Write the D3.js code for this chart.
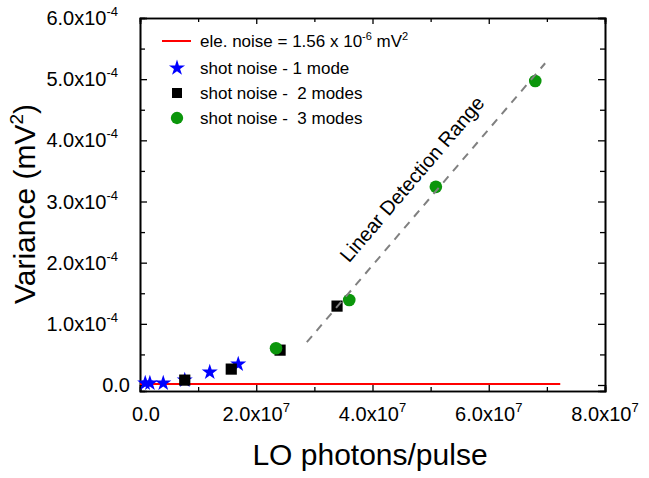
<!DOCTYPE html>
<html>
<head>
<meta charset="utf-8">
<script src="https://cdn.jsdelivr.net/npm/d3@7"></script>
<style>
  body { margin: 0; background: #fff; }
  svg text { font-family: "Liberation Sans", Arial, sans-serif; fill: #000; white-space: pre; }
</style>
</head>
<body>
<div id="chart"></div>
<script>
// data
const starX = [0.09e7, 0.17e7, 0.40e7, 0.77e7, 1.20e7, 1.69e7];
const starY = [0.3e-5, 0.3e-5, 0.3e-5, 0.8e-5, 2.1e-5, 3.4e-5];
const squareX = [0.77e7, 1.57e7, 2.41e7, 3.39e7];
const squareY = [0.8e-5, 2.6e-5, 5.7e-5, 12.9e-5];
const circleX = [2.34e7, 3.60e7, 5.09e7, 6.80e7];
const circleY = [6.0e-5, 13.9e-5, 32.4e-5, 49.7e-5];
const noiseLevel = 1.56e-6;
const noiseX = [0, 7.23e7];
const fitX = [2.87e7, 6.97e7];
const fitY = [0.70e-4, 5.26e-4];
const xTicks = [0, 2e7, 4e7, 6e7, 8e7];
const xTickLabels = [["0.0", ""], ["2.0x10", "7"], ["4.0x10", "7"], ["6.0x10", "7"], ["8.0x10", "7"]];
const yTicks = [0, 1e-4, 2e-4, 3e-4, 4e-4, 5e-4, 6e-4];
const yTickLabels = [["0.0", ""], ["1.0x10", "-4"], ["2.0x10", "-4"], ["3.0x10", "-4"], ["4.0x10", "-4"], ["5.0x10", "-4"], ["6.0x10", "-4"]];
const legendNames = ["shot noise - 1 mode", "shot noise -  2 modes", "shot noise -  3 modes"];

let width = 649;
let height = 478;
let margin = { top: 18, right: 44, bottom: 87, left: 140 };

let svg = d3.select("#chart")
    .append("svg")
    .attr("width", width)
    .attr("height", height);

let x = d3.scaleLinear().domain([0, 8e7]).range([margin.left, width - margin.right]);
let y = d3.scaleLinear().domain([-0.98e-5, 6e-4]).range([height - margin.bottom, margin.top]);

let x0 = margin.left, x1 = width - margin.right;
let y0 = height - margin.bottom, y1 = margin.top;

// minor tick positions (halfway between majors)
let xMinor = d3.range(1e7, 8e7, 2e7);
let yMinor = d3.range(0.5e-4, 6e-4, 1e-4);

// bottom and top axes, ticks point inward
svg.append("g")
    .attr("transform", `translate(0,${y0})`)
    .call(d3.axisBottom(x).tickValues(xTicks).tickSize(-6).tickFormat(""));
svg.append("g")
    .attr("transform", `translate(0,${y0})`)
    .call(d3.axisBottom(x).tickValues(xMinor).tickSize(-4).tickFormat(""));
svg.append("g")
    .attr("transform", `translate(0,${y1})`)
    .call(d3.axisTop(x).tickValues(xTicks).tickSize(-6).tickFormat(""));
svg.append("g")
    .attr("transform", `translate(0,${y1})`)
    .call(d3.axisTop(x).tickValues(xMinor).tickSize(-4).tickFormat(""));

// left and right axes
svg.append("g")
    .attr("transform", `translate(${x0},0)`)
    .call(d3.axisLeft(y).tickValues(yTicks).tickSize(-7).tickFormat(""));
svg.append("g")
    .attr("transform", `translate(${x0},0)`)
    .call(d3.axisLeft(y).tickValues(yMinor).tickSize(-5).tickFormat(""));
svg.append("g")
    .attr("transform", `translate(${x1},0)`)
    .call(d3.axisRight(y).tickValues(yTicks).tickSize(-7).tickFormat(""));
svg.append("g")
    .attr("transform", `translate(${x1},0)`)
    .call(d3.axisRight(y).tickValues(yMinor).tickSize(-5).tickFormat(""));

svg.selectAll(".domain").attr("stroke", "#000").attr("stroke-width", 1.6);
svg.selectAll(".tick line").attr("stroke", "#000").attr("stroke-width", 1.3);

// x tick labels
xTicks.forEach((v, i) => {
    let t = svg.append("text")
        .attr("x", x(v) + (i == 0 ? 6 : 0))
        .attr("y", y0 + 30)
        .attr("text-anchor", "middle")
        .style("font-size", "20px");
    t.append("tspan").text(xTickLabels[i][0]);
    if (xTickLabels[i][1]) {
        t.append("tspan").attr("dy", -9).style("font-size", "13px").text(xTickLabels[i][1]);
    }
});

// y tick labels
yTicks.forEach((v, i) => {
    let t = svg.append("text")
        .attr("x", i == 0 ? x0 - 10 : x0 - 22)
        .attr("y", y(v) + 7)
        .attr("text-anchor", "end")
        .style("font-size", "20px");
    t.append("tspan").text(yTickLabels[i][0]);
    if (yTickLabels[i][1]) {
        t.append("tspan").attr("dy", -9).style("font-size", "13px").text(yTickLabels[i][1]);
    }
});

// axis titles
svg.append("text")
    .attr("x", 370)
    .attr("y", 465)
    .attr("text-anchor", "middle")
    .style("font-size", "30px")
    .text("LO photons/pulse");

let yTitle = svg.append("text")
    .attr("transform", "translate(35,204) rotate(-90)")
    .attr("text-anchor", "middle")
    .style("font-size", "30px");
yTitle.append("tspan").text("Variance (mV");
yTitle.append("tspan").attr("dy", -12).style("font-size", "19px").text("2");
yTitle.append("tspan").attr("dy", 12).text(")");

// electronic noise level
svg.append("line")
    .attr("x1", x(noiseX[0]))
    .attr("x2", x(noiseX[1]))
    .attr("y1", y(noiseLevel))
    .attr("y2", y(noiseLevel))
    .attr("stroke", "#ff0000")
    .attr("stroke-width", 2);

const green = "#0b960b";
let starSym = d3.symbol().type(d3.symbolStar).size(80);
let squareSym = d3.symbol().type(d3.symbolSquare).size(125);
let circleSym = d3.symbol().type(d3.symbolCircle).size(125);

svg.append("g").selectAll("path")
    .data(starX.map((d, i) => [d, starY[i]]))
    .join("path")
    .attr("d", starSym)
    .attr("transform", d => `translate(${x(d[0])},${y(d[1])})`)
    .attr("fill", "#0000ff");

svg.append("g").selectAll("path")
    .data(squareX.map((d, i) => [d, squareY[i]]))
    .join("path")
    .attr("d", squareSym)
    .attr("transform", d => `translate(${x(d[0])},${y(d[1])})`)
    .attr("fill", "#000");

svg.append("g").selectAll("path")
    .data(circleX.map((d, i) => [d, circleY[i]]))
    .join("path")
    .attr("d", circleSym)
    .attr("transform", d => `translate(${x(d[0])},${y(d[1])})`)
    .attr("fill", green);

// linear fit guide
svg.append("line")
    .attr("x1", x(fitX[0]))
    .attr("y1", y(fitY[0]))
    .attr("x2", x(fitX[1]))
    .attr("y2", y(fitY[1]))
    .attr("stroke", "#808080")
    .attr("stroke-width", 2)
    .attr("stroke-dasharray", "8,7");

// rotated annotation
svg.append("text")
    .attr("transform", "translate(412,179) rotate(-49.5)")
    .attr("text-anchor", "middle")
    .attr("dominant-baseline", "central")
    .style("font-size", "20px")
    .text("Linear Detection Range");

// legend
let lg = svg.append("g");
lg.append("line")
    .attr("x1", 162).attr("x2", 191)
    .attr("y1", 41).attr("y2", 41)
    .attr("stroke", "#ff0000").attr("stroke-width", 2);
let t0 = lg.append("text").attr("x", 200).attr("y", 47).style("font-size", "17px");
t0.append("tspan").text("ele. noise = 1.56 x 10");
t0.append("tspan").attr("dy", -7).style("font-size", "11px").text("-6");
t0.append("tspan").attr("dy", 7).text(" mV");
t0.append("tspan").attr("dy", -7).style("font-size", "11px").text("2");

let legendSyms = [[starSym, "#0000ff"], [d3.symbol().type(d3.symbolSquare).size(100), "#000"], [d3.symbol().type(d3.symbolCircle).size(120), green]];
legendNames.forEach((name, i) => {
    let cy = 68 + i * 25;
    lg.append("path")
        .attr("d", legendSyms[i][0])
        .attr("transform", `translate(177,${cy})`)
        .attr("fill", legendSyms[i][1]);
    lg.append("text")
        .attr("x", 200)
        .attr("y", cy + 6)
        .style("font-size", "17px")
        .text(name);
});
</script>
</body>
</html>
